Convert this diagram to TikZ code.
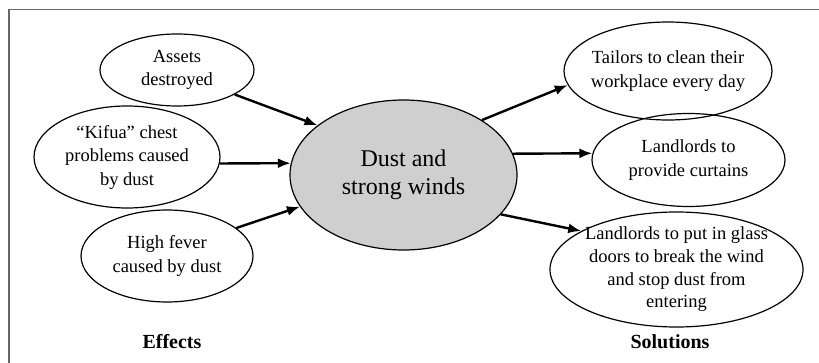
\documentclass[tikz,border=0pt]{standalone}
\usepackage{fontspec}
\setmainfont{Liberation Serif}
\usetikzlibrary{shapes,arrows.meta}

\begin{document}
\begin{tikzpicture}[x=1pt,y=-1pt,
      every node/.style={ellipse,draw,line width=1.2pt,inner sep=-8pt,align=center,
        font=\fontsize{18.5}{23.5}\selectfont},
      hub/.style={fill=black!19,font=\fontsize{24}{28}\selectfont},
      heading/.style={draw=none,inner sep=0pt,font=\fontsize{20}{22}\selectfont\bfseries},
      arr/.style={line width=2.4pt,-{Latex[length=13pt,width=10pt]}}]
    \useasboundingbox (0,0) rectangle (819,363);
    \draw[line width=1.5pt,black!60] (9,363) -- (9,9.5) -- (819,9.5);
    \node[hub,minimum width=227,minimum height=150] (dust) at (403.5,175) {Dust and\\strong winds};
    \node[minimum width=154,minimum height=72] (assets) at (177,70) {Assets\\destroyed};
    \node[minimum width=186,minimum height=102] (kifua) at (127,157) {``Kifua'' chest\\problems caused\\by dust};
    \node[minimum width=172,minimum height=92] (fever) at (167,256) {High fever\\caused by dust};
    \node[minimum width=208,minimum height=98] (tailors) at (668,71) {Tailors to clean their\\workplace every day};
    \node[minimum width=193,minimum height=93] (curtains) at (688.5,160) {Landlords to\\provide curtains};
    \node[minimum width=253,minimum height=115,font=\fontsize{18.5}{22.7}\selectfont] (glass) at (676.5,269.5) {Landlords to put in glass\\doors to break the wind\\and stop dust from\\entering};
    \node[heading] (effects) at (172,342) {Effects};
    \node[heading] (solutions) at (670,342) {Solutions};
    \draw[arr] (assets.-23.5) -- (dust.150);
    \draw[arr] (kifua.-4) -- (dust.174);
    \draw[arr] (fever.22) -- (dust.-163.5);
    \draw[arr] (dust.35) -- (tailors.-172);
    \draw[arr] (dust.11) -- (curtains.176);
    \draw[arr] (dust.-22) -- (glass.158);
  \end{tikzpicture}
\end{document}
